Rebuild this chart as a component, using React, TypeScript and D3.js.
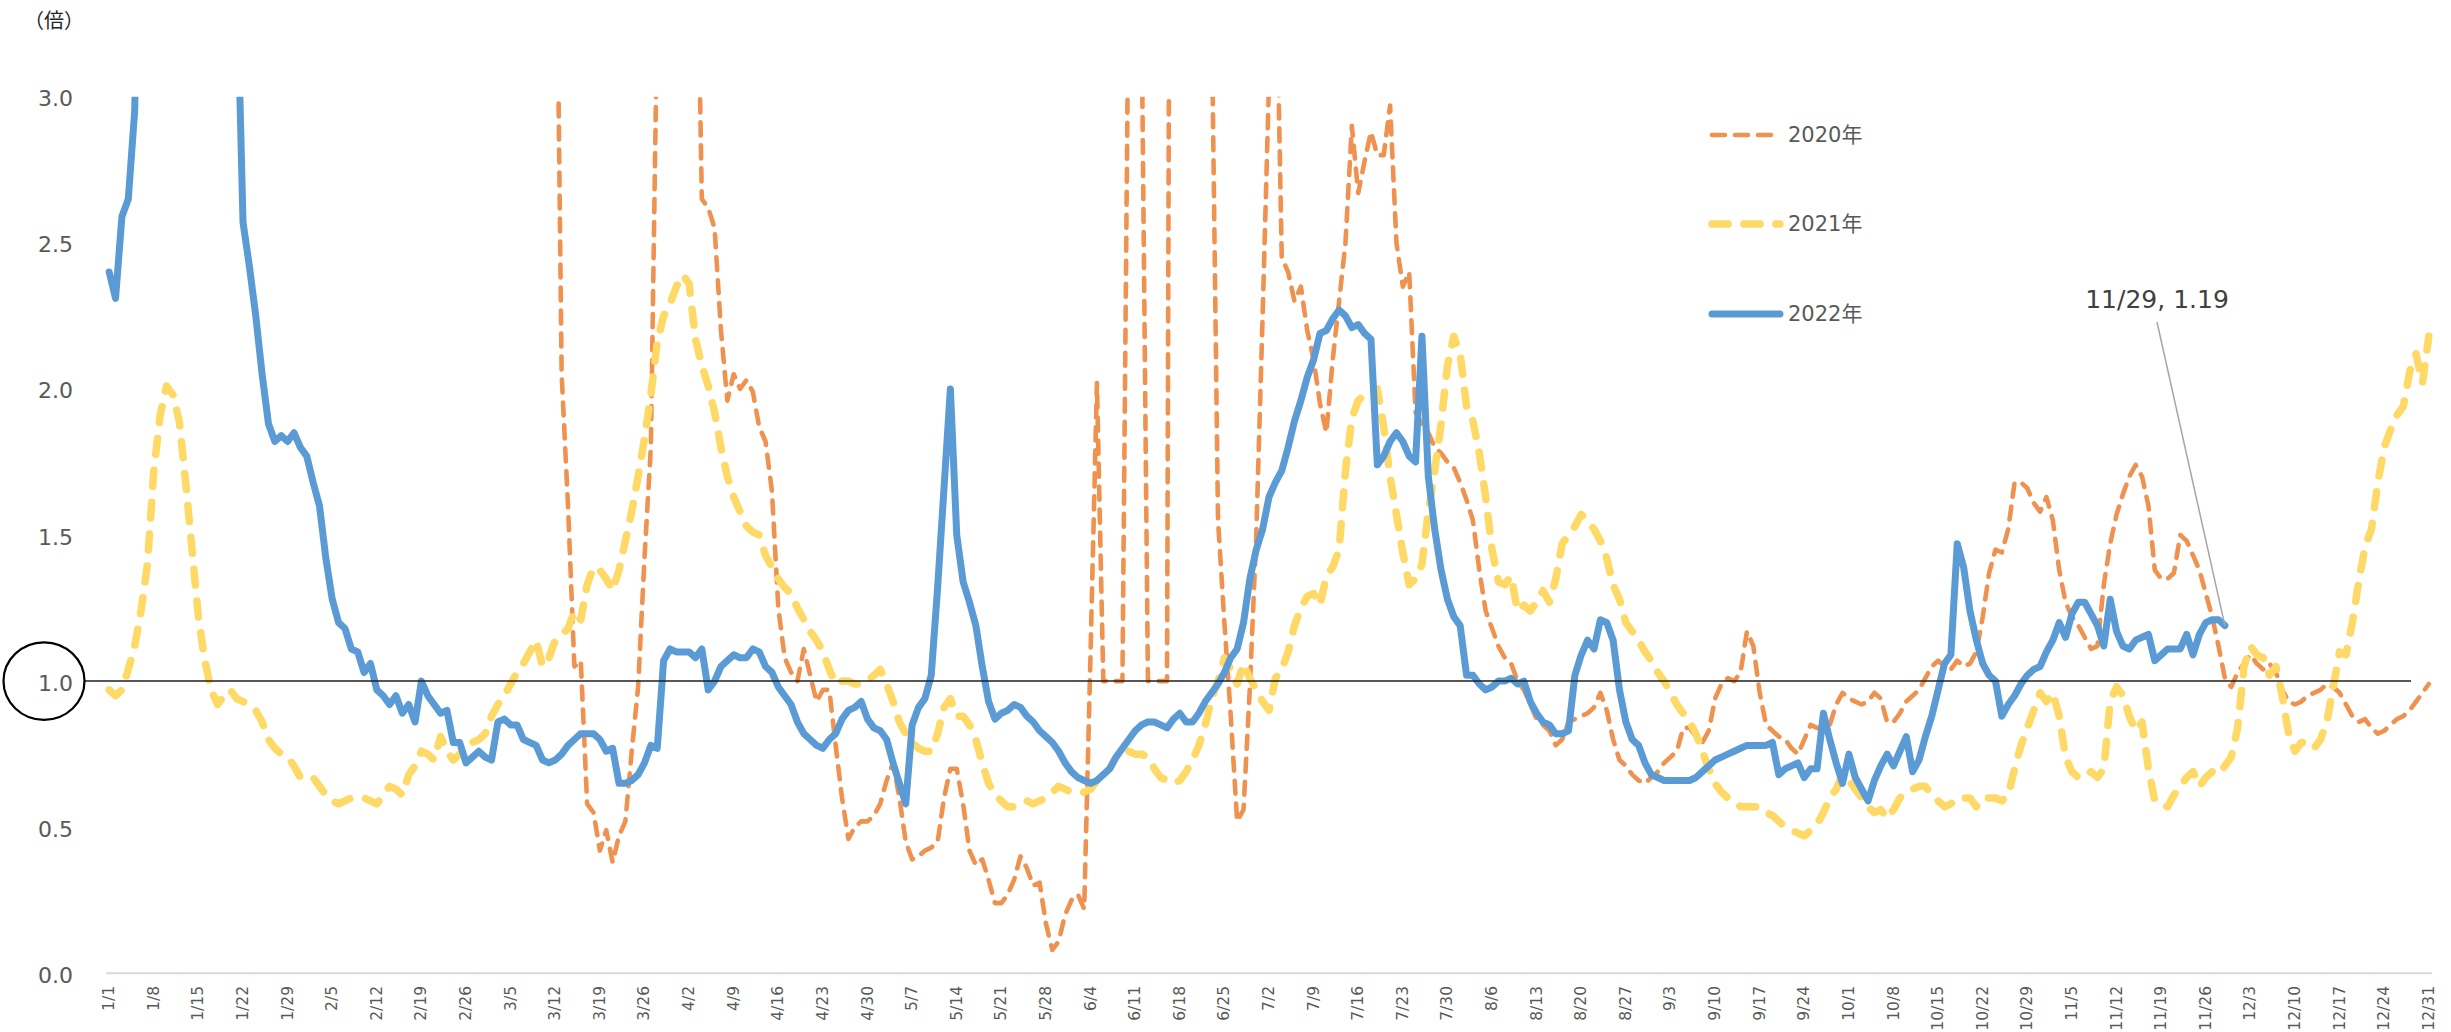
import React from "react";
import * as d3 from "d3";

const WIDTH = 2451;
const HEIGHT = 1032;

// categories: every day of the year (labels shown every 7 days)
const categories: string[] = d3
  .timeDays(new Date(2022, 0, 1), new Date(2023, 0, 1))
  .map((d) => d3.timeFormat("%-m/%-d")(d));
const tickLabels: string[] = categories.filter((_, i) => i % 7 === 0);
const yTickValues = [0, 0.5, 1.0, 1.5, 2.0, 2.5, 3.0];
const seriesNames = ["2020年", "2021年", "2022年"];
const referenceValue = 1.0;
const annotationDate = "11/29";
const annotationValue = 1.19;
const unitLabel = "（倍）";

const N = null;

const values2020: (number | null)[] = [
  ...Array.from({ length: 70 }, () => N),
  4.0, 2.05, 1.6, 1.05, 1.07, 0.58, 0.55, 0.42, 0.49, 0.38, // 70-79
  0.47, 0.52, 0.76, 0.98, 1.42, 1.8, 3.3, 4.0, 4.5, 5.0, // 80-89
  4.8, 4.4, 3.9, 2.65, 2.62, 2.55, 2.2, 1.96, 2.05, 2.0, // 90-99
  2.03, 1.99, 1.87, 1.82, 1.65, 1.25, 1.08, 1.03, 1.0, 1.11, // 100-109
  1.02, 0.93, 0.97, 0.97, 0.78, 0.6, 0.46, 0.5, 0.52, 0.52, // 110-119
  0.54, 0.58, 0.66, 0.72, 0.6, 0.45, 0.39, 0.4, 0.42, 0.43, // 120-129
  0.45, 0.6, 0.7, 0.7, 0.58, 0.42, 0.37, 0.39, 0.32, 0.24, // 130-139
  0.24, 0.27, 0.32, 0.4, 0.36, 0.3, 0.31, 0.17, 0.08, 0.11, // 140-149
  0.2, 0.25, 0.27, 0.22, 1.1, 2.02, 1.0, 1.0, 1.0, 1.0, // 150-159
  3.5, 4.0, 3.3, 1.0, 1.0, 1.0, 1.0, 8.0, 9.0, 8.0, // 160-169
  7.0, 6.0, 5.0, 3.3, 1.55, 1.2, 0.88, 0.52, 0.56, 0.98, // 170-179
  1.5, 2.25, 3.05, 3.6, 2.45, 2.4, 2.3, 2.35, 2.2, 2.1, // 180-189
  1.95, 1.85, 2.1, 2.3, 2.5, 2.9, 2.67, 2.78, 2.88, 2.8, // 190-199
  2.8, 2.97, 2.5, 2.35, 2.4, 1.92, 1.88, 1.85, 1.8, 1.78, // 200-209
  1.75, 1.73, 1.68, 1.62, 1.55, 1.38, 1.24, 1.18, 1.12, 1.08, // 210-219
  1.06, 1.0, 0.97, 0.92, 0.87, 0.85, 0.83, 0.78, 0.8, 0.86, // 220-229
  0.87, 0.88, 0.89, 0.91, 0.96, 0.9, 0.8, 0.73, 0.71, 0.68, // 230-239
  0.66, 0.65, 0.67, 0.69, 0.72, 0.74, 0.76, 0.84, 0.84, 0.81, // 240-249
  0.79, 0.83, 0.94, 0.99, 1.01, 1.0, 1.03, 1.17, 1.12, 0.96, // 250-259
  0.85, 0.83, 0.81, 0.8, 0.77, 0.75, 0.8, 0.85, 0.84, 0.84, // 260-269
  0.85, 0.92, 0.96, 0.94, 0.93, 0.92, 0.93, 0.96, 0.94, 0.86, // 270-279
  0.86, 0.89, 0.93, 0.95, 0.97, 1.01, 1.05, 1.07, 1.05, 1.04, // 280-289
  1.07, 1.05, 1.06, 1.1, 1.22, 1.37, 1.45, 1.44, 1.52, 1.68, // 290-299
  1.68, 1.66, 1.61, 1.58, 1.63, 1.55, 1.38, 1.27, 1.22, 1.19, // 300-309
  1.15, 1.11, 1.12, 1.33, 1.47, 1.57, 1.64, 1.7, 1.74, 1.7, // 310-319
  1.6, 1.38, 1.35, 1.35, 1.37, 1.5, 1.48, 1.43, 1.38, 1.3, // 320-329
  1.22, 1.12, 1.01, 0.98, 1.03, 1.06, 1.09, 1.06, 1.04, 1.06, // 330-339
  1.03, 0.97, 0.93, 0.92, 0.93, 0.95, 0.96, 0.97, 0.99, 0.98, // 340-349
  0.96, 0.92, 0.88, 0.86, 0.87, 0.84, 0.82, 0.83, 0.85, 0.87, // 350-359
  0.88, 0.9, 0.93, 0.96, 0.99, // 360-364
];

const values2021: number[] = [
  0.97, 0.95, 0.97, 1.04, 1.12, 1.24, 1.4, 1.72, 1.91, 2.01, // 0-9
  1.98, 1.89, 1.68, 1.45, 1.22, 1.07, 0.97, 0.92, 0.95, 0.97, // 10-19
  0.94, 0.93, 0.92, 0.9, 0.86, 0.8, 0.77, 0.75, 0.74, 0.71, // 20-29
  0.67, 0.67, 0.67, 0.64, 0.61, 0.59, 0.58, 0.59, 0.6, 0.6, // 30-39
  0.6, 0.59, 0.58, 0.61, 0.64, 0.63, 0.61, 0.68, 0.71, 0.76, // 40-49
  0.75, 0.73, 0.81, 0.76, 0.73, 0.75, 0.78, 0.79, 0.8, 0.82, // 50-59
  0.88, 0.92, 0.95, 0.99, 1.03, 1.06, 1.1, 1.14, 1.05, 1.08, // 60-69
  1.14, 1.16, 1.18, 1.24, 1.21, 1.33, 1.39, 1.38, 1.35, 1.31, // 70-79
  1.38, 1.48, 1.58, 1.7, 1.83, 1.98, 2.16, 2.25, 2.29, 2.35, // 80-89
  2.39, 2.36, 2.17, 2.08, 2.01, 1.92, 1.8, 1.7, 1.63, 1.58, // 90-99
  1.53, 1.51, 1.5, 1.43, 1.39, 1.35, 1.32, 1.3, 1.25, 1.21, // 100-109
  1.17, 1.14, 1.1, 1.04, 0.99, 1.0, 1.0, 0.99, 0.99, 1.0, // 110-119
  1.02, 1.04, 0.99, 0.93, 0.86, 0.82, 0.79, 0.77, 0.76, 0.76, // 120-129
  0.82, 0.91, 0.94, 0.88, 0.88, 0.85, 0.8, 0.72, 0.65, 0.61, // 130-139
  0.59, 0.57, 0.57, 0.58, 0.59, 0.58, 0.59, 0.6, 0.62, 0.64, // 140-149
  0.63, 0.62, 0.62, 0.62, 0.63, 0.66, 0.68, 0.7, 0.74, 0.76, // 150-159
  0.76, 0.75, 0.75, 0.74, 0.7, 0.67, 0.66, 0.65, 0.66, 0.69, // 160-169
  0.73, 0.78, 0.85, 0.94, 1.0, 1.08, 1.04, 0.99, 1.06, 1.01, // 170-179
  0.97, 0.93, 0.9, 1.01, 1.04, 1.1, 1.19, 1.25, 1.29, 1.3, // 180-189
  1.26, 1.36, 1.39, 1.45, 1.72, 1.9, 1.96, 1.98, 1.99, 2.0, // 190-199
  1.87, 1.7, 1.57, 1.44, 1.33, 1.35, 1.4, 1.58, 1.72, 1.88, // 200-209
  2.08, 2.18, 2.12, 1.94, 1.89, 1.78, 1.63, 1.45, 1.34, 1.33, // 210-219
  1.36, 1.24, 1.26, 1.24, 1.27, 1.31, 1.27, 1.35, 1.47, 1.5, // 220-229
  1.53, 1.57, 1.55, 1.52, 1.48, 1.42, 1.33, 1.28, 1.2, 1.17, // 230-239
  1.14, 1.1, 1.07, 1.03, 1.0, 0.96, 0.92, 0.89, 0.86, 0.82, // 240-249
  0.76, 0.7, 0.65, 0.62, 0.6, 0.59, 0.57, 0.57, 0.57, 0.57, // 250-259
  0.55, 0.54, 0.52, 0.5, 0.49, 0.48, 0.47, 0.49, 0.51, 0.55, // 260-269
  0.6, 0.63, 0.68, 0.66, 0.63, 0.6, 0.57, 0.55, 0.56, 0.53, // 270-279
  0.56, 0.6, 0.62, 0.63, 0.64, 0.64, 0.61, 0.59, 0.57, 0.58, // 280-289
  0.6, 0.6, 0.6, 0.57, 0.6, 0.6, 0.6, 0.59, 0.61, 0.7, // 290-299
  0.78, 0.84, 0.9, 0.96, 0.93, 0.96, 0.88, 0.74, 0.69, 0.67, // 300-309
  0.67, 0.69, 0.67, 0.7, 0.93, 0.98, 0.95, 0.88, 0.83, 0.86, // 310-319
  0.7, 0.59, 0.58, 0.57, 0.61, 0.64, 0.67, 0.69, 0.64, 0.67, // 320-329
  0.69, 0.68, 0.71, 0.74, 0.84, 1.05, 1.12, 1.09, 1.08, 1.02, // 330-339
  1.05, 0.95, 0.82, 0.76, 0.79, 0.79, 0.77, 0.8, 0.86, 0.98, // 340-349
  1.1, 1.09, 1.2, 1.34, 1.46, 1.52, 1.68, 1.8, 1.86, 1.91, // 350-359
  1.94, 2.06, 2.12, 2.02, 2.18, // 360-364
];

const values2022: (number | null)[] = [
  2.4, 2.31, 2.59, 2.65, 2.95, 4.0, 5.0, 5.8, 6.5, 7.0, // 0-9
  7.3, 7.4, 7.2, 6.8, 6.3, 5.7, 5.1, 4.5, 4.0, 3.7, // 10-19
  3.45, 2.57, 2.42, 2.25, 2.05, 1.88, 1.82, 1.84, 1.82, 1.85, // 20-29
  1.8, 1.77, 1.68, 1.6, 1.42, 1.28, 1.2, 1.18, 1.11, 1.1, // 30-39
  1.03, 1.06, 0.97, 0.95, 0.92, 0.95, 0.89, 0.92, 0.86, 1.0, // 40-49
  0.95, 0.92, 0.89, 0.9, 0.79, 0.79, 0.72, 0.74, 0.76, 0.74, // 50-59
  0.73, 0.86, 0.87, 0.85, 0.85, 0.8, 0.79, 0.78, 0.73, 0.72, // 60-69
  0.73, 0.75, 0.78, 0.8, 0.82, 0.82, 0.82, 0.8, 0.76, 0.77, // 70-79
  0.65, 0.65, 0.66, 0.68, 0.72, 0.78, 0.77, 1.07, 1.11, 1.1, // 80-89
  1.1, 1.1, 1.08, 1.11, 0.97, 1.0, 1.05, 1.07, 1.09, 1.08, // 90-99
  1.08, 1.11, 1.1, 1.05, 1.03, 0.98, 0.95, 0.92, 0.86, 0.82, // 100-109
  0.8, 0.78, 0.77, 0.8, 0.82, 0.87, 0.9, 0.91, 0.93, 0.87, // 110-119
  0.84, 0.83, 0.8, 0.72, 0.65, 0.58, 0.85, 0.91, 0.94, 1.02, // 120-129
  1.32, 1.66, 2.0, 1.5, 1.34, 1.27, 1.19, 1.05, 0.93, 0.87, // 130-139
  0.89, 0.9, 0.92, 0.91, 0.88, 0.86, 0.83, 0.81, 0.79, 0.76, // 140-149
  0.72, 0.69, 0.67, 0.66, 0.65, 0.66, 0.68, 0.7, 0.74, 0.77, // 150-159
  0.8, 0.83, 0.85, 0.86, 0.86, 0.85, 0.84, 0.87, 0.89, 0.86, // 160-169
  0.86, 0.89, 0.93, 0.96, 0.99, 1.03, 1.08, 1.11, 1.2, 1.35, // 170-179
  1.45, 1.52, 1.63, 1.68, 1.72, 1.8, 1.89, 1.96, 2.04, 2.1, // 180-189
  2.19, 2.2, 2.24, 2.27, 2.25, 2.21, 2.22, 2.19, 2.17, 1.74, // 190-199
  1.77, 1.82, 1.85, 1.82, 1.77, 1.75, 2.18, 1.7, 1.52, 1.38, // 200-209
  1.28, 1.22, 1.19, 1.02, 1.02, 0.99, 0.97, 0.98, 1.0, 1.0, // 210-219
  1.01, 0.99, 1.0, 0.93, 0.89, 0.86, 0.85, 0.82, 0.82, 0.83, // 220-229
  1.02, 1.09, 1.14, 1.11, 1.21, 1.2, 1.14, 0.97, 0.86, 0.8, // 230-239
  0.78, 0.72, 0.68, 0.67, 0.66, 0.66, 0.66, 0.66, 0.66, 0.67, // 240-249
  0.69, 0.71, 0.73, 0.74, 0.75, 0.76, 0.77, 0.78, 0.78, 0.78, // 250-259
  0.78, 0.79, 0.68, 0.7, 0.71, 0.72, 0.67, 0.7, 0.7, 0.89, // 260-269
  0.8, 0.72, 0.65, 0.75, 0.67, 0.63, 0.59, 0.66, 0.71, 0.75, // 270-279
  0.71, 0.76, 0.81, 0.69, 0.73, 0.81, 0.88, 0.97, 1.06, 1.09, // 280-289
  1.47, 1.39, 1.24, 1.14, 1.06, 1.02, 1.0, 0.88, 0.92, 0.95, // 290-299
  0.99, 1.02, 1.04, 1.05, 1.1, 1.14, 1.2, 1.15, 1.23, 1.27, // 300-309
  1.27, 1.23, 1.19, 1.12, 1.28, 1.17, 1.12, 1.11, 1.14, 1.15, // 310-319
  1.16, 1.07, 1.09, 1.11, 1.11, 1.11, 1.16, 1.09, 1.16, 1.2, // 320-329
  1.21, 1.21, 1.19, // 330-332
];

const seriesValues = [values2020, values2021, values2022];
const seriesStyles = [
  { color: "#F0924F", width: 4.6, dash: "13 10" },
  { color: "#FFD966", width: 7.5, dash: "16 16" },
  { color: "#5B9BD5", width: 7, dash: "" },
];

const FONT = "'DejaVu Sans', 'Noto Sans CJK JP', sans-serif";

export default function App() {
  const plotLeft = 106;
  const plotRight = 2432;
  const plotTop = 96.7;
  const plotBottom = 973.3;

  const x = d3
    .scalePoint<string>()
    .domain(categories)
    .range([plotLeft, plotRight])
    .padding(0.5);
  const y = d3.scaleLinear().domain([0, 3]).range([plotBottom, plotTop]);

  const line = d3
    .line<number | null>()
    .defined((v) => v !== null && v !== undefined)
    .x((_, i) => x(categories[i]) as number)
    .y((v) => y(v as number));

  const annX = x(annotationDate) as number;
  const annY = y(annotationValue);
  const refY = y(referenceValue);

  const legendY = [135, 224, 314];

  return (
    <svg
      width={WIDTH}
      height={HEIGHT}
      style={{ position: "absolute", left: 0, top: 0, background: "#fff" }}
      fontFamily={FONT}
    >
      <defs>
        <clipPath id="plotClip">
          <rect x={plotLeft - 10} y={plotTop} width={plotRight - plotLeft + 20} height={plotBottom - plotTop + 10} />
        </clipPath>
      </defs>
      <rect x={0} y={0} width={WIDTH} height={HEIGHT} fill="#fff" />

      {/* unit label */}
      <text x={24} y={28} fontSize={20} fill="#262626" fontFamily="'Noto Sans CJK JP', sans-serif">
        {unitLabel}
      </text>

      {/* y tick labels */}
      {yTickValues.map((v) => (
        <text
          key={v}
          x={73}
          y={y(v) + 2}
          textAnchor="end"
          dominantBaseline="central"
          fontSize={22}
          fill="#595959"
        >
          {v.toFixed(1)}
        </text>
      ))}

      {/* x axis */}
      <line x1={plotLeft} x2={plotRight} y1={plotBottom} y2={plotBottom} stroke="#d9d9d9" strokeWidth={2} />
      {tickLabels.map((lab) => {
        const px = x(lab) as number;
        return (
          <text
            key={lab}
            transform={`translate(${px},986) rotate(-90)`}
            textAnchor="end"
            dominantBaseline="central"
            fontSize={15.5}
            fill="#595959"
          >
            {lab}
          </text>
        );
      })}

      {/* series */}
      <g clipPath="url(#plotClip)">
        {seriesValues.map((vals, si) => (
          <path
            key={si}
            d={line(vals) || ""}
            fill="none"
            stroke={seriesStyles[si].color}
            strokeWidth={seriesStyles[si].width}
            strokeDasharray={seriesStyles[si].dash || undefined}
            strokeLinecap="round"
            strokeLinejoin="round"
          />
        ))}
      </g>

      {/* reference line at 1.0 */}
      <line x1={85} x2={2411} y1={refY} y2={refY} stroke="#1f1f1f" strokeWidth={1.5} />
      <ellipse cx={44} cy={refY} rx={40.5} ry={38.8} fill="none" stroke="#000" strokeWidth={2.2} />

      {/* legend */}
      {seriesNames.map((name, i) => (
        <g key={name}>
          <line
            x1={1712}
            x2={i === 0 ? 1774 : 1780}
            y1={legendY[i]}
            y2={legendY[i]}
            stroke={seriesStyles[i].color}
            strokeWidth={seriesStyles[i].width}
            strokeDasharray={seriesStyles[i].dash || undefined}
            strokeLinecap="round"
          />
          <text x={1788} y={legendY[i]} dominantBaseline="central" fontSize={21} fill="#595959">
            {name}
          </text>
        </g>
      ))}

      {/* annotation */}
      <line x1={2157} y1={322} x2={annX} y2={annY} stroke="#a6a6a6" strokeWidth={1.5} />
      <text x={2157} y={308} textAnchor="middle" fontSize={25} fill="#404040">
        {`${annotationDate}, ${annotationValue.toFixed(2)}`}
      </text>
    </svg>
  );
}
